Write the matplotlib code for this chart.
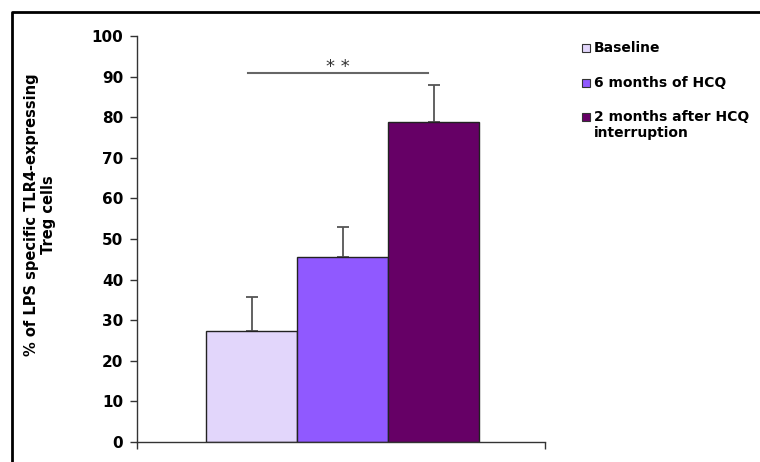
import matplotlib
matplotlib.use("Agg")
import matplotlib.pyplot as plt
from matplotlib.patches import Rectangle
from matplotlib.lines import Line2D

plt.rcParams['font.family'] = ['DejaVu Sans']

# Data
groups = ["Baseline", "6 months of HCQ", "2 months after HCQ\ninterruption"]
values = [27.3, 45.5, 78.8]
errors = [8.4, 7.4, 9.2]
colors = ["#E2D6FB", "#9059FF", "#660066"]
yticks = [0, 10, 20, 30, 40, 50, 60, 70, 80, 90, 100]
ylabel = "% of LPS specific TLR4-expressing\nTreg cells"
sig_text = "* *"
sig_y = 90.8
sig_x = [-0.04, 1.94]

fig = plt.figure(figsize=(7.6, 4.62), dpi=100)
ax = fig.add_axes([137/760, 1-442/462, 408/760, 406/462])

x = [0, 1, 2]
ax.bar(x, values, width=1.0, color=colors, edgecolor="#222222", linewidth=1.0, zorder=2)
ax.errorbar(x, values, yerr=[[0, 0, 0], errors], fmt="none", ecolor="#555555",
            elinewidth=1.3, capsize=4.5, capthick=1.3, zorder=1)

ax.set_xlim(-1.26, 3.22)
ax.set_ylim(0, 100)
ax.set_yticks(yticks)
ax.set_yticklabels([str(t) for t in yticks], fontsize=11, fontweight="bold")
ax.set_xticks([-1.26, 3.22])
ax.set_xticklabels(["", ""])
ax.tick_params(axis="y", direction="out", length=5, width=1, color="#333333", pad=5)
ax.tick_params(axis="x", direction="out", length=5, width=1, color="#333333")
for s in ["top", "right"]:
    ax.spines[s].set_visible(False)
for s in ["left", "bottom"]:
    ax.spines[s].set_color("#333333")
    ax.spines[s].set_linewidth(1.0)

# significance
ax.plot(sig_x, [sig_y, sig_y], color="#666666", lw=1.5, clip_on=False)
ax.text(sum(sig_x)/2, sig_y + 0.4, sig_text, ha="center", va="baseline",
        fontsize=13, color="#333333")

# y label
fig.text(40/760, 1-215/462, ylabel, rotation=90, ha="center", va="center",
         multialignment="center", fontsize=10.5, fontweight="bold")

# legend (manual)
leg_y = [48, 83, 117]
for lbl, col, yy in zip(groups, colors, leg_y):
    fig.patches.append(Rectangle((582/760, 1-(yy+4)/462), 8/760, 8/462,
                                 transform=fig.transFigure, facecolor=col,
                                 edgecolor="#333333", linewidth=0.8))
    fig.text(594/760, 1-(yy-7)/462, lbl, ha="left", va="top", fontsize=10,
             fontweight="bold", linespacing=1.15)

# outer frame (left and top)
fig.lines.append(Line2D([12/760, 12/760, 1.0], [0, 1-12/462, 1-12/462],
                        transform=fig.transFigure, color="black", lw=2))

fig.savefig("out.png", dpi=100)
